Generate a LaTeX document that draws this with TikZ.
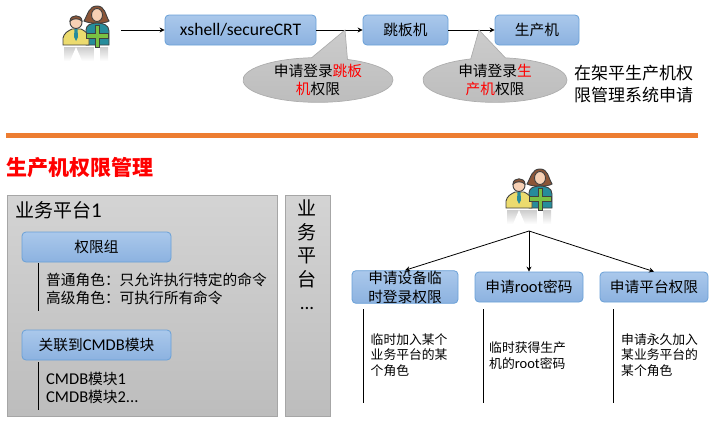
\documentclass[tikz,border=0pt]{standalone}
\usepackage{fontspec}
\setmainfont{Noto Sans CJK SC}
\newfontfamily\latn{Carlito}
\usepackage{xcolor}
\usetikzlibrary{arrows.meta,shapes.geometric,shapes.callouts}
\definecolor{ruleorange}{RGB}{237,125,49}
\definecolor{boxedge}{RGB}{105,160,215}
\definecolor{boxtop}{RGB}{170,200,235}
\definecolor{boxbot}{RGB}{140,178,224}
\definecolor{iconyellow}{RGB}{236,219,110}
\definecolor{iconteal}{RGB}{38,140,155}
\definecolor{iconhair}{RGB}{140,85,55}
\definecolor{iconskin}{RGB}{247,208,180}
\definecolor{icongreen}{RGB}{122,193,67}
\newcommand{\peopleicon}[2]{%
  \begin{scope}[shift={(#1,#2)}, line width=0.9pt, draw=black!75]
    \shade[top color=black!20, bottom color=white, draw=none] (64,47) rectangle (108,61);
    \fill[white] (76,47) -- (70,61) -- (82,61) -- cycle;
    \fill[white] (94,47) rectangle (100,61);
    \filldraw[fill=iconhair] (97,6) .. controls (89,6) and (88,14) .. (84,21)
      .. controls (90,24) and (104,24) .. (109,21) .. controls (105,14) and (105,6) .. (97,6) -- cycle;
    \filldraw[fill=iconteal] (86,45) -- (86,30) .. controls (86,25) and (91,23) .. (97,23)
      .. controls (103,23) and (109,25) .. (109,31) -- (109,45) -- cycle;
    \filldraw[fill=iconskin] (97,15) ellipse (5.5 and 6.5);
    \filldraw[fill=iconyellow] (63,45) -- (63,38) .. controls (64,33) and (68,31) .. (72,29)
      -- (81,29) .. controls (85,31) and (88,33) .. (89,38) -- (89,45) -- cycle;
    \fill[iconteal] (74.5,29) -- (77.5,29) -- (78,37) -- (76,41) -- (74,37) -- cycle;
    \filldraw[fill=iconskin] (76,22.5) circle (6);
    \filldraw[fill=iconhair] (70,21) .. controls (70,14) and (82,14) .. (82,21)
      .. controls (78,18) and (74,18) .. (70,21) -- cycle;
    \filldraw[fill=icongreen, line width=0.8pt] (95,25) -- (99.5,25) -- (99.5,33.5) -- (108,33.5) -- (108,38) -- (99.5,38)
      -- (99.5,47) -- (95,47) -- (95,38) -- (86,38) -- (86,33.5) -- (95,33.5) -- cycle;
  \end{scope}}

\begin{document}
\begin{tikzpicture}[
  x=1pt, y=-1pt,
  >={Stealth[length=5pt,width=5pt]},
  bluebox/.style={draw=boxedge, rounded corners=4pt, line width=0.8pt, top color=boxtop, bottom color=boxbot,
    inner sep=0pt, minimum height=30pt, align=center, font=\fontsize{14.7}{19}\selectfont},
  bubble/.style={ellipse callout, draw=black!32, line width=0.7pt, top color=black!20, bottom color=black!26,
    inner sep=0pt, align=center, callout pointer arc=28, font=\fontsize{14.7}{18}\selectfont},
  panel/.style={draw=black!35, line width=0.8pt, top color=black!17, bottom color=black!26, inner sep=0pt},
  txt/.style={inner sep=0pt, align=left, anchor=north west, font=\fontsize{14.7}{18.5}\selectfont},
  small/.style={inner sep=0pt, align=left, anchor=west, font=\fontsize{12.8}{15.8}\selectfont},
  arrline/.style={->, line width=0.8pt, black},
  stem/.style={line width=0.8pt, black},
]
\useasboundingbox (0,0) rectangle (715,423);

% top row
\peopleicon{0}{0}
\coordinate (userA) at (121,30);
\node[bluebox, minimum width=151pt] (xshell) at (240.5,30) {\fontsize{17.6}{20}\latn xshell/secureCRT};
\node[bluebox, minimum width=85pt] (jump) at (405.5,30) {跳板机};
\node[bluebox, minimum width=84pt] (prod) at (537,30) {生产机};
\draw[arrline] (userA) -- (xshell.west);
\draw[arrline] (xshell.east) -- (jump.west);
\draw[arrline] (jump.east) -- (prod.west);

\coordinate (tipJump) at (345,30);
\coordinate (tipProd) at (479,30);
\node[bubble, minimum width=150pt, minimum height=40pt, callout absolute pointer={(tipJump)}] (askJump) at (318,80)
  {申请登录\textcolor{red}{跳板}\\\textcolor{red}{机}权限};
\node[bubble, minimum width=144pt, minimum height=40pt, callout absolute pointer={(tipProd)}] (askProd) at (495,80)
  {申请登录\textcolor{red}{生}\\\textcolor{red}{产机}权限};
\node[inner sep=0pt, align=left, anchor=west, font=\fontsize{17}{22}\selectfont] (apply) at (574,84)
  {在架平生产机权\\限管理系统申请};

\fill[ruleorange] (6,133) rectangle (698,138);
\node[inner sep=0pt, anchor=west, text=red, font=\fontsize{21}{24}\selectfont\bfseries] (title) at (6,168) {生产机权限管理};

% left panels
\node[panel, minimum width=270pt, minimum height=221pt] (bizA) at (142.5,306) {};
\node[panel, minimum width=45pt, minimum height=221pt] (bizB) at (307.5,306) {};
\node[inner sep=0pt, anchor=west, font=\fontsize{19}{22}\selectfont] (bizAname) at (15,210) {业务平台{\latn\fontsize{21}{22}\selectfont 1}};
\node[inner sep=0pt, anchor=north, align=center, font=\fontsize{19}{23.5}\selectfont] (bizBname) at (307,200)
  {业\\务\\平\\台\\{\latn ...}};

\node[bluebox, minimum width=149pt] (group) at (96.5,247) {权限组};
\node[txt] (roles) at (46,272.5) {普通角色：只允许执行特定的命令\\高级角色：可执行所有命令};
\coordinate (groupTop) at (38.5,263);
\coordinate (groupEnd) at (38.5,311);
\draw[stem] (groupTop) -- (groupEnd);

\node[bluebox, minimum width=149pt] (cmdb) at (96.5,345) {关联到{\latn\fontsize{16.5}{19}\selectfont CMDB}模块};
\node[txt] (mods) at (46,371.5) {{\latn\fontsize{16.5}{18}\selectfont CMDB}模块{\latn\fontsize{16.5}{18}\selectfont 1}\\{\latn\fontsize{16.5}{18}\selectfont CMDB}模块{\latn\fontsize{16.5}{18}\selectfont 2...}};
\coordinate (cmdbTop) at (38.5,362);
\coordinate (cmdbEnd) at (38.5,410);
\draw[stem] (cmdbTop) -- (cmdbEnd);

% right tree
\peopleicon{443}{163}
\coordinate (fork) at (529,231);
\node[bluebox, minimum width=106pt] (tempLogin) at (405,287) {申请设备临\\时登录权限};
\node[bluebox, minimum width=108pt] (rootPw) at (529,287) {申请{\latn\fontsize{16.5}{19}\selectfont root}密码};
\node[bluebox, minimum width=108pt] (permPlat) at (654,287) {申请平台权限};
\draw[arrline] (fork) -- (tempLogin.north);
\draw[arrline] (fork) -- (rootPw.north);
\draw[arrline] (fork) -- (permPlat.north);

\coordinate (tempTop) at (363.5,309);
\coordinate (tempEnd) at (363.5,403);
\coordinate (rootTop) at (483.5,309);
\coordinate (rootEnd) at (483.5,403);
\coordinate (platTop) at (613.5,309);
\coordinate (platEnd) at (613.5,403);
\draw[stem] (tempTop) -- (tempEnd);
\draw[stem] (rootTop) -- (rootEnd);
\draw[stem] (platTop) -- (platEnd);
\node[small] (tempNote) at (370.5,355) {临时加入某个\\业务平台的某\\个角色};
\node[small] (rootNote) at (489,355.5) {临时获得生产\\机的{\latn\fontsize{14.5}{15.8}\selectfont root}密码};
\node[small] (platNote) at (621,355) {申请永久加入\\某业务平台的\\某个角色};
\end{tikzpicture}
\end{document}
